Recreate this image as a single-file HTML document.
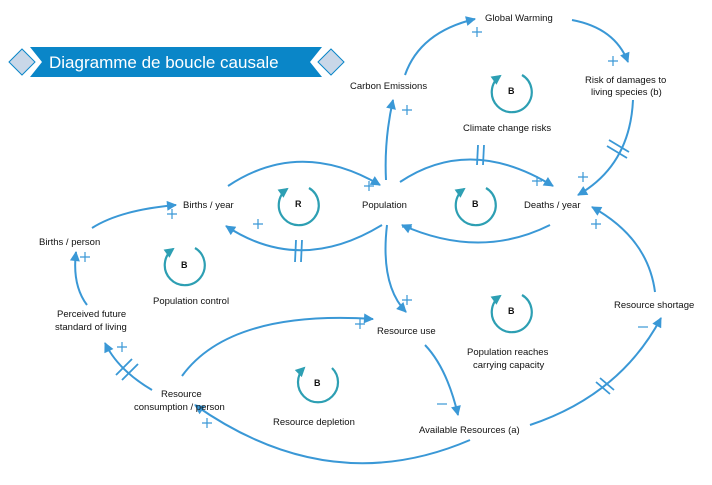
<!DOCTYPE html>
<html><head><meta charset="utf-8"><style>
html,body{margin:0;padding:0;background:#fff;}
svg{display:block;font-family:"Liberation Sans",sans-serif;}
text{font-size:9.5px;fill:#111;}
.e{fill:none;stroke:#3a98d6;stroke-width:2;}
.l{fill:none;stroke:#2d9fb3;stroke-width:2.2;}
.s{stroke:#3a98d6;stroke-width:1.2;fill:none;}
</style></head><body>
<svg width="712" height="485" viewBox="0 0 712 485">
<defs>
<marker id="a" viewBox="0 0 10 10" refX="9" refY="5" markerWidth="14" markerHeight="10" markerUnits="userSpaceOnUse" orient="auto"><path d="M0,0 L10,5 L0,10 z" fill="#3a98d6"/></marker>
<marker id="b" viewBox="0 0 10 10" refX="8" refY="5" markerWidth="11" markerHeight="10" markerUnits="userSpaceOnUse" orient="auto"><path d="M0,0 L10,5 L0,10 z" fill="#2d9fb3"/></marker>
</defs>
<polygon points="30,47 322,47 310,62 322,77 30,77 42,62" fill="#0a86c8"/>
<polygon points="9,62 22,49 35,62 22,75" fill="#c9d7e8" stroke="#0a86c8" stroke-width="1"/>
<polygon points="318,62 331,49 344,62 331,75" fill="#c9d7e8" stroke="#0a86c8" stroke-width="1"/>
<text x="49" y="68" style="font-size:17px;fill:#fff">Diagramme de boucle causale</text>

<g class="e">
<path d="M228,186 Q300,138 380,185" marker-end="url(#a)"/>
<path d="M382,225 Q300,275 226,226" marker-end="url(#a)"/>
<path d="M386,180 Q384,140 393,100" marker-end="url(#a)"/>
<path d="M405,75 Q420,32 475,19" marker-end="url(#a)"/>
<path d="M572,20 Q615,28 628,62" marker-end="url(#a)"/>
<path d="M633,100 Q630,165 578,195" marker-end="url(#a)"/>
<path d="M400,182 Q470,135 553,186" marker-end="url(#a)"/>
<path d="M550,225 Q480,260 402,225" marker-end="url(#a)"/>
<path d="M387,225 Q380,285 406,312" marker-end="url(#a)"/>
<path d="M425,345 Q447,368 458,415" marker-end="url(#a)"/>
<path d="M530,425 Q620,395 661,318" marker-end="url(#a)"/>
<path d="M655,292 Q648,238 592,207" marker-end="url(#a)"/>
<path d="M470,440 Q330,500 195,405" marker-end="url(#a)"/>
<path d="M182,376 Q230,310 373,319" marker-end="url(#a)"/>
<path d="M152,390 Q118,370 105,343" marker-end="url(#a)"/>
<path d="M87,305 Q72,285 76,252" marker-end="url(#a)"/>
<path d="M92,228 Q120,210 176,205" marker-end="url(#a)"/>
</g>

<g class="l">
<path d="M309,188 A20,20 0 1 1 287,189" marker-end="url(#b)"/>
<path d="M522,75 A20,20 0 1 1 500,76" marker-end="url(#b)"/>
<path d="M486,188 A20,20 0 1 1 464,189" marker-end="url(#b)"/>
<path d="M195,248 A20,20 0 1 1 173,249" marker-end="url(#b)"/>
<path d="M522,295 A20,20 0 1 1 500,296" marker-end="url(#b)"/>
<path d="M332,368 A20,20 0 1 1 304,368" marker-end="url(#b)"/>
</g>

<g class="s" style="stroke-width:1.8">
<path d="M296,240 L295,262 M302,240 L301,262"/>
<path d="M478,145 L477,165 M484,145 L483,165"/>
<path d="M609,140 L629,152 M607,146 L627,158"/>
<path d="M116,375 L132,359 M122,380 L138,364"/>
<path d="M596,382 L610,394 M600,378 L614,390"/>
</g>

<g class="s">
<path d="M364,186h10M369,181v10"/>
<path d="M253,224h10M258,219v10"/>
<path d="M402,110h10M407,105v10"/>
<path d="M472,32h10M477,27v10"/>
<path d="M608,61h10M613,56v10"/>
<path d="M578,177h10M583,172v10"/>
<path d="M532,181h10M537,176v10"/>
<path d="M591,224h10M596,219v10"/>
<path d="M402,300h10M407,295v10"/>
<path d="M355,324h10M360,319v10"/>
<path d="M202,423h10M207,418v10"/>
<path d="M117,347h10M122,342v10"/>
<path d="M80,257h10M85,252v10"/>
<path d="M167,214h10M172,209v10"/>
<path d="M402,227h10"/>
<path d="M437,404h10"/>
<path d="M638,327h10"/>
</g>

<text x="183" y="208">Births / year</text>
<text x="362" y="208">Population</text>
<text x="524" y="208">Deaths / year</text>
<text x="39" y="245">Births / person</text>
<text x="350" y="89">Carbon Emissions</text>
<text x="485" y="21">Global Warming</text>
<text x="585" y="83">Risk of damages to</text>
<text x="591" y="95">living species (b)</text>
<text x="463" y="131">Climate change risks</text>
<text x="153" y="304">Population control</text>
<text x="57" y="317">Perceived future</text>
<text x="55" y="330">standard of living</text>
<text x="377" y="334">Resource use</text>
<text x="614" y="308">Resource shortage</text>
<text x="467" y="355">Population reaches</text>
<text x="473" y="368">carrying capacity</text>
<text x="161" y="397">Resource</text>
<text x="134" y="410">consumption / person</text>
<text x="273" y="425">Resource depletion</text>
<text x="419" y="433">Available Resources (a)</text>
<g style="font-weight:bold">
<text x="295" y="207" style="font-size:9px">R</text>
<text x="508" y="94" style="font-size:9px">B</text>
<text x="472" y="207" style="font-size:9px">B</text>
<text x="181" y="268" style="font-size:9px">B</text>
<text x="508" y="314" style="font-size:9px">B</text>
<text x="314" y="386" style="font-size:9px">B</text>
</g>
</svg>
</body></html>
